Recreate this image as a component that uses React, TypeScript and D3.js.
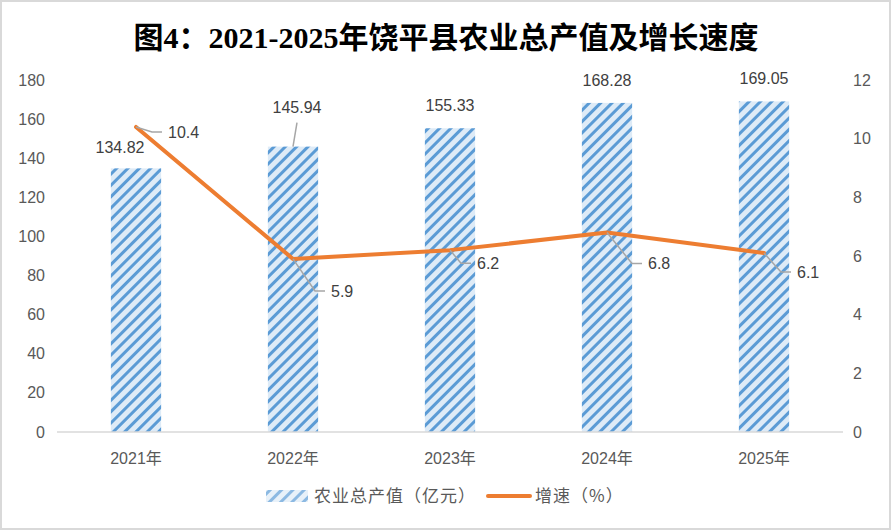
import React, { useEffect, useRef } from 'react'
import * as d3 from 'd3'

const years = ['2021年', '2022年', '2023年', '2024年', '2025年']
const output = [134.82, 145.94, 155.33, 168.28, 169.05]
const growth = [10.4, 5.9, 6.2, 6.8, 6.1]
// label placements (offsets from the mark), as moved by hand in the original
const outputLabelOffsets: [number, number][] = [[-16, -21], [4, -39], [0, -23], [0, -23], [0, -23]]
const growthLabelOffsets: [number, number][] = [[32, 5], [38, 32], [27, 13], [41, 31], [33, 19]]
const leftTicks = [0, 20, 40, 60, 80, 100, 120, 140, 160, 180]
const rightTicks = [0, 2, 4, 6, 8, 10, 12]

const TXT = '#595959'
const FONT = '"Liberation Sans", "Noto Sans CJK SC", sans-serif'
const CJK = '"Noto Sans CJK SC", "Liberation Sans", sans-serif'

export default function App() {
  const ref = useRef<SVGSVGElement | null>(null)

  useEffect(() => {
    document.body.style.margin = '0'
    const width = 891
    const height = 530
    const svg = d3.select(ref.current!)
    svg.selectAll('*').remove()

    const defs = svg.append('defs')
    const pat = defs.append('pattern').attr('id', 'hatch').attr('patternUnits', 'userSpaceOnUse')
      .attr('width', 8).attr('height', 8).attr('patternTransform', 'rotate(45)')
    pat.append('rect').attr('width', 8).attr('height', 8).attr('fill', '#deebf7')
    pat.append('rect').attr('width', 3).attr('height', 8).attr('fill', '#5b9bd5')

    svg.append('rect').attr('x', 1).attr('y', 1).attr('width', width - 2).attr('height', height - 2)
      .attr('fill', '#fff').attr('stroke', '#d9d9d9').attr('stroke-width', 2)

    svg.append('text').attr('x', 446).attr('y', 48).attr('text-anchor', 'middle')
      .attr('font-family', '"Liberation Serif", "Noto Sans CJK SC", serif').attr('font-weight', 700)
      .attr('font-size', 30).attr('fill', '#000')
      .text('图4：2021-2025年饶平县农业总产值及增长速度')

    const x = d3.scaleBand<string>().domain(years).range([57.5, 842.5]).paddingInner(0.68).paddingOuter(0.34)
    const y = d3.scaleLinear().domain([0, 180]).range([432, 80])
    const y2 = d3.scaleLinear().domain([0, 12]).range([432, 80])
    const cx = (i: number) => (x(years[i]) ?? 0) + x.bandwidth() / 2

    // left axis
    svg.append('g').selectAll('text').data(leftTicks).enter().append('text')
      .attr('x', 45).attr('y', d => y(d)).attr('dy', '0.35em').attr('text-anchor', 'end')
      .attr('font-family', FONT).attr('font-size', 16).attr('fill', TXT).text(d => d)
    // right axis
    svg.append('g').selectAll('text').data(rightTicks).enter().append('text')
      .attr('x', 853).attr('y', d => y2(d)).attr('dy', '0.35em').attr('text-anchor', 'start')
      .attr('font-family', FONT).attr('font-size', 16).attr('fill', TXT).text(d => d)

    // bars
    svg.append('g').selectAll('rect').data(output).enter().append('rect')
      .attr('x', (d, i) => x(years[i]) ?? 0).attr('y', d => y(d))
      .attr('width', x.bandwidth()).attr('height', d => y(0) - y(d))
      .attr('fill', 'url(#hatch)')

    // baseline
    svg.append('line').attr('x1', 57).attr('x2', 843).attr('y1', y(0)).attr('y2', y(0))
      .attr('stroke', '#d9d9d9').attr('stroke-width', 1.5)

    // category labels
    svg.append('g').selectAll('text').data(years).enter().append('text')
      .attr('x', (d, i) => cx(i)).attr('y', 458).attr('dy', '0.35em').attr('text-anchor', 'middle')
      .attr('font-family', FONT).attr('font-size', 16).attr('fill', TXT).text(d => d)

    // bar value labels (the moved 2022 one keeps a leader line)
    output.forEach((v, i) => {
      const [dx, dy] = outputLabelOffsets[i]
      const lx = cx(i) + dx, ly = y(v) + dy
      if (dy < -30) {
        svg.append('line').attr('x1', lx).attr('y1', ly + 15).attr('x2', cx(i)).attr('y2', y(v))
          .attr('stroke', '#a6a6a6').attr('stroke-width', 1.5)
      }
      svg.append('text').attr('x', lx).attr('y', ly).attr('dy', '0.35em').attr('text-anchor', 'middle')
        .attr('font-family', FONT).attr('font-size', 16).attr('fill', '#404040').text(v.toFixed(2))
    })

    // growth line
    const line = d3.line<number>().x((d, i) => cx(i)).y(d => y2(d))
    svg.append('path').datum(growth).attr('d', line).attr('fill', 'none')
      .attr('stroke', '#ed7d31').attr('stroke-width', 4).attr('stroke-linejoin', 'round').attr('stroke-linecap', 'round')

    // leader lines + growth labels
    growth.forEach((v, i) => {
      const px = cx(i), py = y2(v)
      const lx = px + growthLabelOffsets[i][0], ly = py + growthLabelOffsets[i][1]
      svg.append('path')
        .attr('d', `M${px},${py} L${lx - 16},${ly} L${lx - 6},${ly}`)
        .attr('fill', 'none').attr('stroke', '#a6a6a6').attr('stroke-width', 1.5)
      svg.append('text').attr('x', lx).attr('y', ly).attr('dy', '0.35em')
        .attr('font-family', FONT).attr('font-size', 16).attr('fill', '#404040').text(v)
    })

    // legend
    const lg = svg.append('g')
    lg.append('rect').attr('x', 266).attr('y', 490).attr('width', 42).attr('height', 12).attr('fill', 'url(#hatch)')
      .attr('opacity', 0.7)
    lg.append('text').attr('x', 314).attr('y', 496).attr('dy', '0.35em').attr('font-family', CJK)
      .attr('font-size', 17).attr('letter-spacing', 1).attr('fill', TXT).text('农业总产值（亿元）')
    lg.append('line').attr('x1', 488).attr('x2', 530).attr('y1', 496).attr('y2', 496)
      .attr('stroke', '#ed7d31').attr('stroke-width', 4).attr('stroke-linecap', 'round')
    lg.append('text').attr('x', 535).attr('y', 496).attr('dy', '0.35em').attr('font-family', CJK)
      .attr('font-size', 17).attr('letter-spacing', 1).attr('fill', TXT).text('增速（%）')
  }, [])

  return <svg ref={ref} width={891} height={530} style={{ display: 'block' }} />
}
